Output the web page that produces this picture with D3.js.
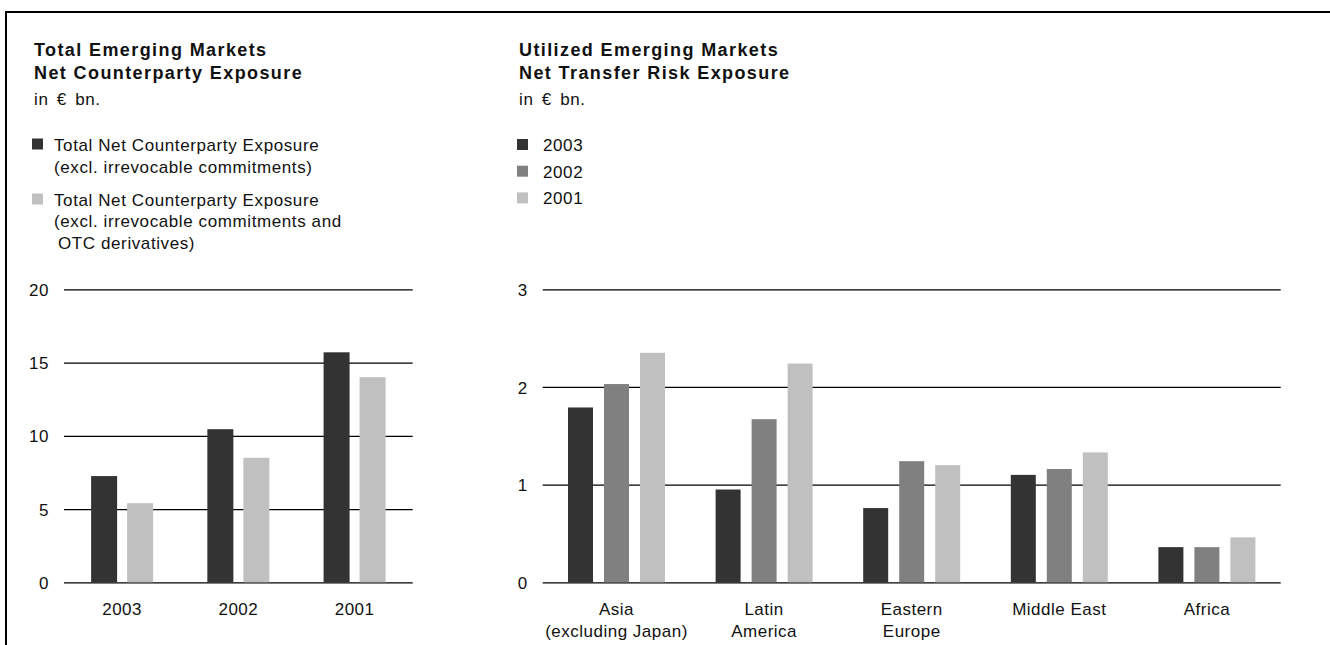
<!DOCTYPE html>
<html>
<head>
<meta charset="utf-8">
<script src="https://cdn.jsdelivr.net/npm/d3@7"></script>
<style>
  html, body { margin: 0; padding: 0; background: #fff; }
  svg { display: block; }
  text { font-family: "Liberation Sans", Arial, Helvetica, sans-serif; fill: #111; }
</style>
</head>
<body>
<svg id="chart" width="1330" height="645"></svg>
<script>
// ---------- data ----------
const leftCategories = ["2003", "2002", "2001"];
const leftSeriesNames = [
  ["Total Net Counterparty Exposure", "(excl. irrevocable commitments)"],
  ["Total Net Counterparty Exposure", "(excl. irrevocable commitments and", " OTC derivatives)"]
];
const leftSeriesA = [7.25, 10.45, 15.7];   // excl. irrevocable commitments
const leftSeriesB = [5.4, 8.5, 14.0];      // excl. irrevocable commitments and OTC derivatives
const leftTicks = [0, 5, 10, 15, 20];

const rightCategories = [
  ["Asia", "(excluding Japan)"],
  ["Latin", "America"],
  ["Eastern", "Europe"],
  ["Middle East"],
  ["Africa"]
];
const rightSeriesNames = ["2003", "2002", "2001"];
const right2003 = [1.79, 0.95, 0.76, 1.10, 0.36];
const right2002 = [2.03, 1.67, 1.24, 1.16, 0.36];
const right2001 = [2.35, 2.24, 1.20, 1.33, 0.46];
const rightTicks = [0, 1, 2, 3];

const colDark = "#333333", colMid = "#808080", colLight = "#c0c0c0";

// ---------- setup ----------
const svg = d3.select("#chart");

// frame (top and left rules)
svg.append("line").attr("x1", 5).attr("x2", 1330).attr("y1", 12).attr("y2", 12)
  .attr("stroke", "#000").attr("stroke-width", 2);
svg.append("line").attr("x1", 6).attr("x2", 6).attr("y1", 11).attr("y2", 645)
  .attr("stroke", "#000").attr("stroke-width", 2);

const regStyle = sel => sel.style("font-size", "17px").style("letter-spacing", "0.6px");

function header(x, lines) {
  lines.forEach((t, i) => {
    svg.append("text").attr("x", x).attr("y", [56, 79][i]).text(t)
      .style("font-size", "18px").style("font-weight", "bold").style("letter-spacing", "1.4px");
  });
  svg.append("text").attr("x", x).attr("y", 105).text("in € bn.").call(regStyle)
    .style("word-spacing", "3px");
}

header(34, ["Total Emerging Markets", "Net Counterparty Exposure"]);
header(519, ["Utilized Emerging Markets", "Net Transfer Risk Exposure"]);

// left legend
const leftLegBase = [[150.5, 172.5], [205.5, 227, 248.5]];
const leftColors = [colDark, colLight];
leftSeriesNames.forEach((lines, i) => {
  svg.append("rect").attr("x", 32).attr("y", leftLegBase[i][0] - 12).attr("width", 11).attr("height", 11)
    .attr("fill", leftColors[i]);
  lines.forEach((t, j) => {
    const lead = t.startsWith(" ") ? 4 : 0;
    svg.append("text").attr("x", 54 + lead).attr("y", leftLegBase[i][j]).text(t.trim()).call(regStyle);
  });
});

// right legend
const rightColors = [colDark, colMid, colLight];
rightSeriesNames.forEach((t, i) => {
  const base = 151 + i * 26.7;
  svg.append("rect").attr("x", 517).attr("y", base - 12).attr("width", 11).attr("height", 11)
    .attr("fill", rightColors[i]);
  svg.append("text").attr("x", 543).attr("y", base).text(t).call(regStyle);
});

// ---------- chart builder ----------
function barChart(opts) {
  const { x0, x1, yTop, yBottom, categories, series, colors, ticks, maxV, barStep, barW } = opts;
  const g = svg.append("g");
  const y = d3.scaleLinear().domain([0, maxV]).range([yBottom, yTop]);
  const xs = d3.scaleBand().domain(d3.range(categories.length)).range([x0, x1]).padding(0);
  const n = series.length;
  const pIn = (barStep - barW) / barStep;
  const span = barStep * (n - pIn);
  const xi = d3.scaleBand().domain(d3.range(n)).range([-span / 2, span / 2]).paddingInner(pIn).paddingOuter(0);

  // grid + tick labels via axis
  const yAxis = d3.axisLeft(y).tickValues(ticks).tickSize(-(x1 - x0)).tickPadding(15).tickFormat(d3.format("d"));
  const ag = g.append("g").attr("transform", `translate(${x0},0)`).call(yAxis);
  ag.select(".domain").remove();
  ag.selectAll(".tick line").attr("stroke", "#000").attr("stroke-width", 1.3);
  ag.selectAll(".tick text").attr("dy", "0.36em")
    .style("font-size", "17px").style("letter-spacing", "0.5px").style("font-family", "Liberation Sans, Arial, sans-serif")
    .attr("fill", "#111");

  // bars
  series.forEach((vals, si) => {
    g.append("g").selectAll("rect").data(vals).join("rect")
      .attr("x", (d, i) => xs(i) + xs.bandwidth() / 2 + xi(si))
      .attr("width", xi.bandwidth())
      .attr("y", d => y(d))
      .attr("height", d => y(0) - y(d))
      .attr("fill", colors[si]);
  });

  // category labels
  const xAxis = d3.axisBottom(xs).tickSize(0).tickFormat(() => "");
  const xg = g.append("g").attr("transform", `translate(0,${yBottom})`).call(xAxis);
  xg.select(".domain").remove();
  xg.selectAll(".tick").each(function (d) {
    const lines = categories[d];
    const t = d3.select(this).append("text").attr("text-anchor", "middle")
      .style("font-size", "17px").style("letter-spacing", "0.5px")
      .style("font-family", "Liberation Sans, Arial, sans-serif").attr("fill", "#111");
    lines.forEach((ln, j) => {
      t.append("tspan").attr("x", 0).attr("y", 33 + j * 21.5).text(ln);
    });
  });
}

barChart({
  x0: 64, x1: 412.7, yTop: 289.3, yBottom: 582.3,
  categories: leftCategories.map(c => [c]),
  series: [leftSeriesA, leftSeriesB],
  colors: [colDark, colLight],
  ticks: leftTicks, maxV: 20,
  barStep: 36, barW: 26
});

barChart({
  x0: 542.7, x1: 1280.7, yTop: 289.3, yBottom: 582.3,
  categories: rightCategories,
  series: [right2003, right2002, right2001],
  colors: [colDark, colMid, colLight],
  ticks: rightTicks, maxV: 3,
  barStep: 36, barW: 25
});
</script>
</body>
</html>
